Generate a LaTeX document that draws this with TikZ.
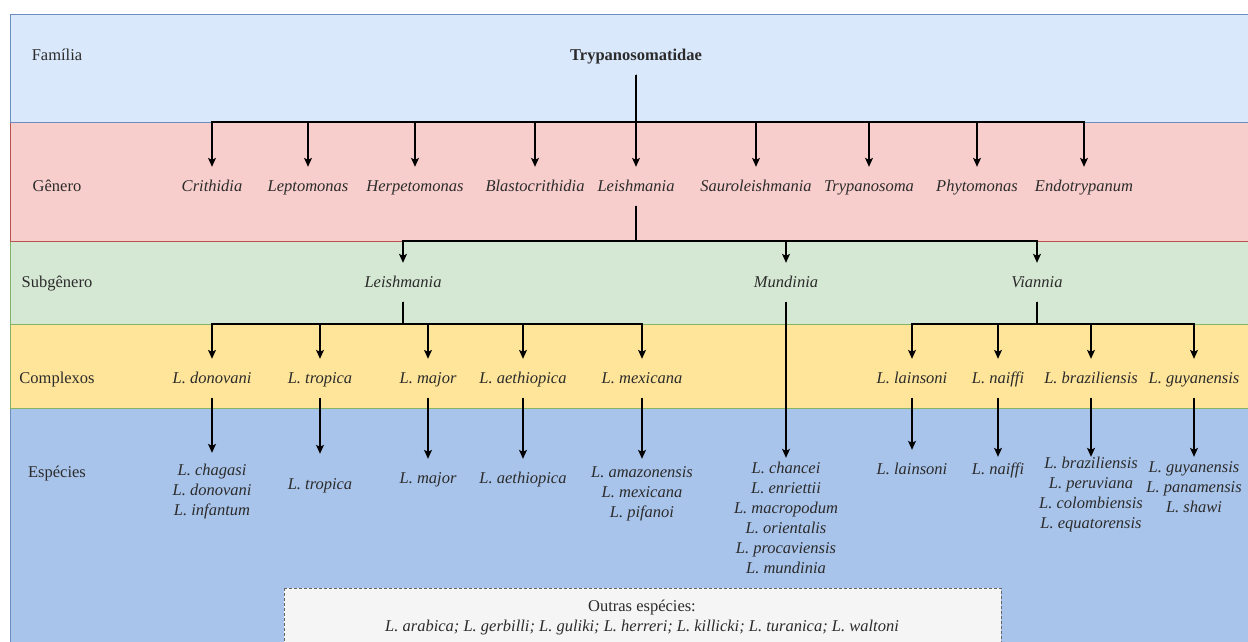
\documentclass[tikz,border=0pt]{standalone}
\usepackage{fontspec}
\setmainfont{Liberation Serif}
\usetikzlibrary{arrows.meta}
\definecolor{famfill}{HTML}{DAE8FC}\definecolor{famline}{HTML}{6C8EBF}
\definecolor{genfill}{HTML}{F8CECC}\definecolor{genline}{HTML}{B85450}
\definecolor{subfill}{HTML}{D5E8D4}\definecolor{subline}{HTML}{82B366}
\definecolor{cpxfill}{HTML}{FFE599}\definecolor{espfill}{HTML}{A9C4EB}
\definecolor{boxfill}{HTML}{F5F5F5}\definecolor{boxline}{HTML}{666666}
\definecolor{txt}{HTML}{2B2B2B}
\tikzset{
  lbl/.style={anchor=base,text=txt,font=\fontsize{16.5}{20}\selectfont,inner xsep=0pt,inner ysep=11pt,text height=13pt,text depth=3.5pt},
  taxon/.style={lbl,font=\fontsize{16.5}{20}\selectfont\itshape},
  spec/.style={text=txt,font=\fontsize{16.5}{20}\selectfont\itshape,align=center,inner ysep=0pt},
  arr/.style={-{Stealth[length=9pt,width=8pt,inset=2pt]},line width=1.1pt},
  band/.style={line width=1pt}
}
\begin{document}
\begin{tikzpicture}[x=1pt,y=-1pt]
\useasboundingbox (0,0) rectangle (1248,641);
\clip (0,0) rectangle (1248,641);
\draw[band,fill=espfill,draw=famline] (10,408) rectangle (1260,700);
\draw[band,fill=cpxfill,draw=subline] (10,324) rectangle (1260,408);
\draw[band,fill=subfill,draw=subline] (10,241) rectangle (1260,324);
\draw[band,fill=genfill,draw=genline] (10,122) rectangle (1260,241);
\draw[band,fill=famfill,draw=famline] (10,14) rectangle (1260,122);
\node[lbl] (lFam) at (57,60) {Família};
\node[lbl] (lGen) at (57,191) {Gênero};
\node[lbl] (lSub) at (57,287) {Subgênero};
\node[lbl] (lCpx) at (57,383) {Complexos};
\node[lbl] (lEsp) at (57,477) {Espécies};
\coordinate (busF) at (0,122);
\coordinate (busG) at (0,241);
\coordinate (busC) at (0,324);
\node[lbl,font=\fontsize{16.5}{20}\selectfont\bfseries] (fam) at (636,60) {Trypanosomatidae};
\foreach \nm/\x/\txt in {gCri/212/Crithidia,gLep/308/Leptomonas,gHer/415/Herpetomonas,gBla/535/Blastocrithidia,gLei/636/Leishmania,gSau/756/Sauroleishmania,gTry/869/Trypanosoma,gPhy/977/Phytomonas,gEnd/1084/Endotrypanum}{
  \node[taxon] (\nm) at (\x,191) {\txt};
  \draw[arr] (fam.south) -- (fam.south |- busF) -| (\nm.north);
}
\node[taxon] (sgLei) at (403,287) {Leishmania};
\node[taxon] (sgMun) at (786,287) {Mundinia};
\node[taxon] (sgVia) at (1037,287) {Viannia};
\foreach \nm in {sgLei,sgMun,sgVia}
  \draw[arr] (gLei.south) -- (gLei.south |- busG) -| (\nm.north);
\foreach \nm/\x/\txt in {cDon/212/donovani,cTro/320/tropica,cMaj/428/major,cAet/523/aethiopica,cMex/642/mexicana}{
  \node[taxon] (\nm) at (\x,383) {L. \txt};
  \draw[arr] (sgLei.south) -- (sgLei.south |- busC) -| (\nm.north);
}
\foreach \nm/\x/\txt in {cLai/912/lainsoni,cNai/998/naiffi,cBra/1091/braziliensis,cGuy/1194/guyanensis}{
  \node[taxon] (\nm) at (\x,383) {L. \txt};
  \draw[arr] (sgVia.south) -- (sgVia.south |- busC) -| (\nm.north);
}
\node[spec,minimum height=78] (sDon) at (212,492) {L. chagasi\\L. donovani\\L. infantum};
\node[spec,minimum height=64] (sTro) at (320,486) {L. tropica};
\node[spec,minimum height=42] (sMaj) at (428,480) {L. major};
\node[spec,minimum height=42] (sAet) at (523,480) {L. aethiopica};
\node[spec,minimum height=70] (sMex) at (642,494) {L. amazonensis\\L. mexicana\\L. pifanoi};
\node[spec,minimum height=120] (sMun) at (786,518) {L. chancei\\L. enriettii\\L. macropodum\\L. orientalis\\L. procaviensis\\L. mundinia};
\node[spec,minimum height=38] (sLai) at (912,469) {L. lainsoni};
\node[spec,minimum height=26] (sNai) at (998,470) {L. naiffi};
\node[spec,minimum height=71] (sBra) at (1091,494.5) {L. braziliensis\\L. peruviana\\L. colombiensis\\L. equatorensis};
\node[spec,minimum height=60] (sGuy) at (1194,487) {L. guyanensis\\L. panamensis\\L. shawi};
\foreach \a/\b in {cDon/sDon,cTro/sTro,cMaj/sMaj,cAet/sAet,cMex/sMex,sgMun/sMun,cLai/sLai,cNai/sNai,cBra/sBra,cGuy/sGuy}
  \draw[arr] (\a.south) -- (\b.north);
\draw[fill=boxfill,draw=boxline,line width=0.8pt,dash pattern=on 3pt off 2pt] (284,588) rectangle (1001,700);
\node[text=txt,font=\fontsize{16.5}{20}\selectfont,align=center] (outras) at (642,618) {Outras espécies:\\\textit{L. arabica; L. gerbilli; L. guliki; L. herreri; L. killicki; L. turanica; L. waltoni}};
\end{tikzpicture}
\end{document}
